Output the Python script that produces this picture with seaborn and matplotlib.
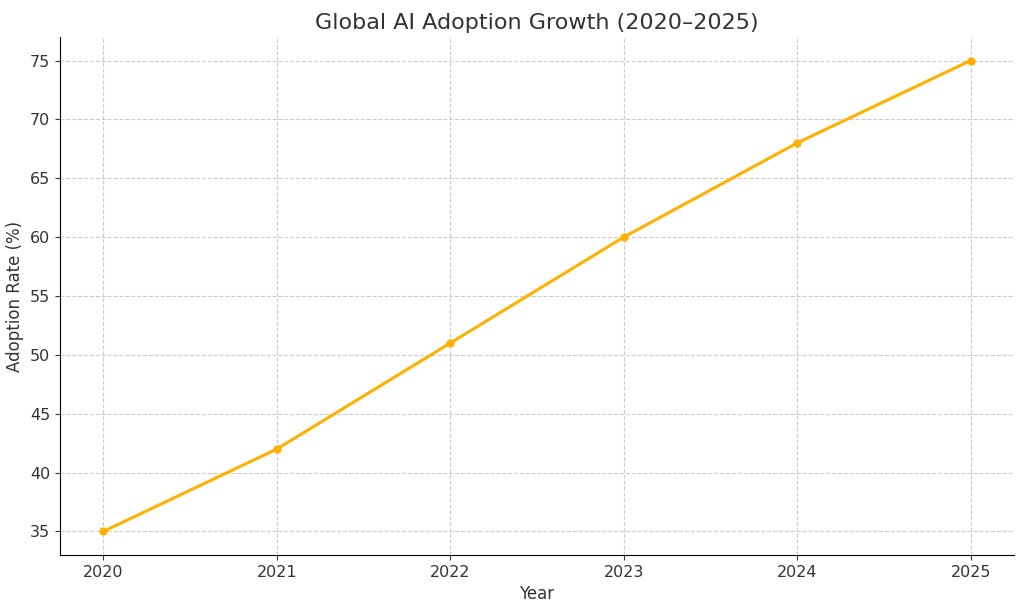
import matplotlib
matplotlib.use("Agg")
import matplotlib.pyplot as plt
import seaborn as sns
import pandas as pd

years = [2020, 2021, 2022, 2023, 2024, 2025]
adoption = [35, 42, 51, 60, 68, 75]
df = pd.DataFrame({"Year": years, "Adoption": adoption})

fig = plt.figure(figsize=(10.24, 6.11), dpi=100)
ax = fig.add_axes([60/1024, 1-555/611, (1014-60)/1024, (555-37)/611])
sns.lineplot(data=df, x="Year", y="Adoption", ax=ax, color="#FFB000",
             marker="o", markersize=6, markeredgewidth=0, linewidth=2.2)
ax.set_xlim(2019.75, 2025.25)
ax.set_ylim(33, 77)
ax.set_xticks(years)
ax.set_yticks(range(35, 80, 5))
ax.grid(True, linestyle="--", color="#cccccc", linewidth=0.8)
ax.set_axisbelow(True)
ax.spines["top"].set_visible(False)
ax.spines["right"].set_visible(False)
ax.tick_params(labelsize=11.5, colors="#333333")
ax.set_xlabel("Year", fontsize=12, color="#333333")
ax.set_ylabel("Adoption Rate (%)", fontsize=12, color="#333333")
ax.set_title("Global AI Adoption Growth (2020–2025)", fontsize=16, color="#333333")
fig.savefig("out.png", dpi=100)
